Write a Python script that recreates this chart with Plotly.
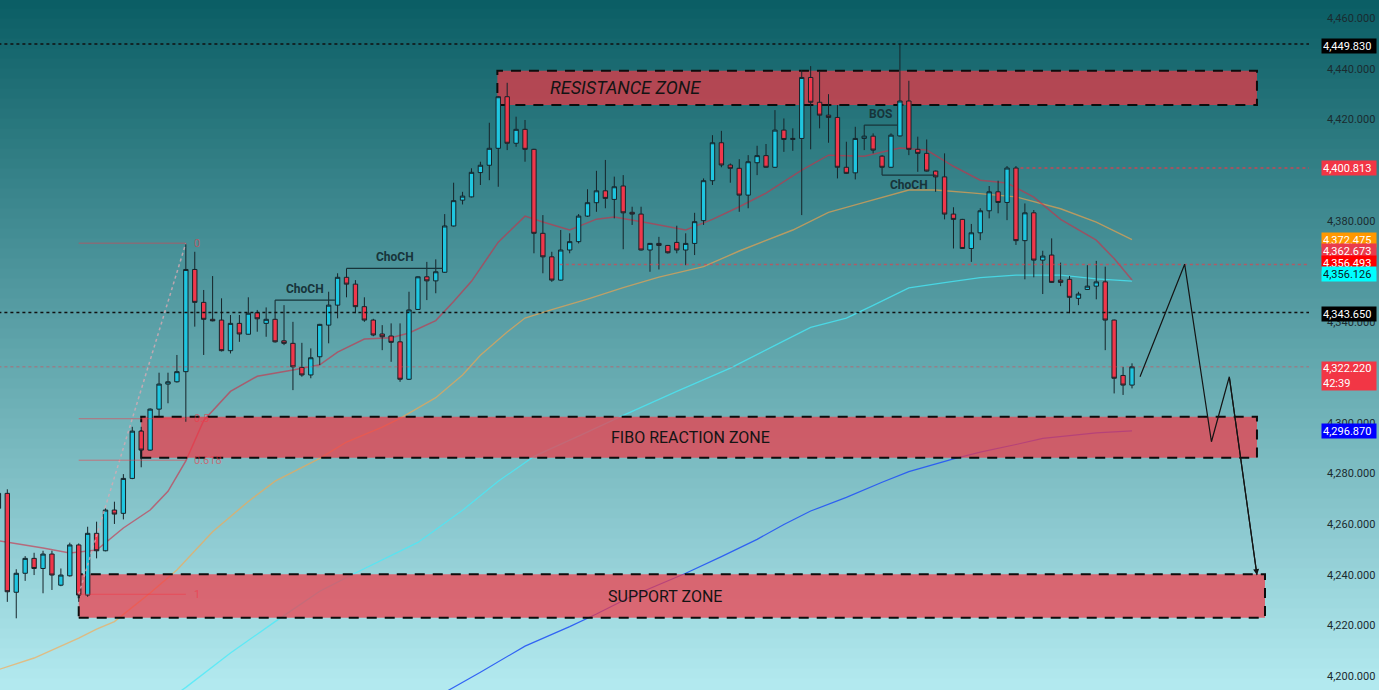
import plotly.graph_objects as go

# ---- candles (index -1 is the sliver cut off at the left edge) ----
CANDLE_IDX = list(range(-1, 127))
OPEN = [
    4266.3, 4272.2, 4233.1, 4240.6, 4246.5, 4242.5, 4248.2, 4235.9, 4239.6, 4251.8,
    4232.0, 4256.4, 4249.5, 4265.6, 4264.3, 4278.1, 4296.8, 4289.3, 4305.5, 4315.4,
    4316.3, 4320.3, 4360.7, 4347.7, 4341.0, 4340.7, 4328.6, 4339.4, 4335.1, 4343.6,
    4339.4, 4341.0, 4332.5, 4331.5, 4322.0, 4319.0, 4326.2, 4338.7, 4346.6, 4357.6,
    4354.9, 4346.0, 4340.7, 4335.2, 4334.4, 4332.1, 4317.3, 4344.9, 4357.8, 4356.2,
    4359.6, 4377.9, 4388.1, 4389.4, 4399.0, 4401.9, 4408.6, 4429.0, 4410.6, 4416.1,
    4408.2, 4375.0, 4365.7, 4356.5, 4368.4, 4371.7, 4381.8, 4387.1, 4391.8, 4388.4,
    4393.7, 4383.3, 4382.6, 4368.4, 4371.0, 4370.2, 4371.4, 4368.4, 4371.0, 4380.0,
    4395.8, 4410.8, 4402.0, 4400.7, 4390.1, 4402.9, 4405.7, 4401.1, 4415.8, 4412.1,
    4412.5, 4436.6, 4426.8, 4421.7, 4420.8, 4401.1, 4398.9, 4412.5, 4413.4, 4405.5,
    4401.1, 4413.5, 4427.3, 4408.2, 4406.6, 4399.6, 4397.3, 4382.6, 4380.5, 4369.0,
    4375.2, 4383.9, 4391.4, 4387.2, 4400.8, 4372.1, 4383.1, 4364.4, 4366.4, 4356.5,
    4356.8, 4349.3, 4352.8, 4354.1, 4355.8, 4340.7, 4318.8, 4315.0,
]
HIGH = [
    4273.0, 4273.8, 4242.2, 4247.4, 4248.7, 4249.5, 4249.5, 4242.5, 4252.7, 4252.4,
    4259.0, 4261.0, 4266.3, 4268.9, 4279.8, 4298.5, 4298.5, 4305.8, 4319.9, 4319.9,
    4326.9, 4371.1, 4367.7, 4352.6, 4358.1, 4349.3, 4342.7, 4342.7, 4349.7, 4344.7,
    4345.7, 4348.6, 4346.6, 4340.0, 4331.7, 4329.5, 4339.2, 4351.9, 4359.2, 4361.1,
    4356.5, 4349.7, 4341.2, 4338.7, 4339.4, 4339.4, 4351.9, 4358.0, 4363.7, 4364.7,
    4382.6, 4395.0, 4391.4, 4400.7, 4403.3, 4418.7, 4429.3, 4434.5, 4421.1, 4419.8,
    4408.4, 4382.2, 4367.7, 4376.3, 4375.0, 4382.6, 4392.4, 4399.7, 4404.0, 4397.4,
    4398.0, 4385.5, 4385.5, 4371.2, 4373.6, 4370.4, 4378.0, 4375.0, 4383.1, 4396.7,
    4413.8, 4415.5, 4402.6, 4404.3, 4405.9, 4409.6, 4410.3, 4423.7, 4420.4, 4416.5,
    4439.5, 4441.1, 4438.9, 4430.0, 4425.7, 4411.2, 4417.1, 4417.8, 4414.5, 4405.9,
    4414.5, 4449.83, 4435.3, 4413.2, 4412.1, 4399.8, 4406.6, 4385.3, 4380.7, 4378.7,
    4384.9, 4393.7, 4395.8, 4401.6, 4401.6, 4386.8, 4384.2, 4368.1, 4373.0, 4363.4,
    4358.1, 4351.9, 4362.4, 4364.1, 4361.8, 4340.9, 4322.2, 4323.6,
]
LOW = [
    4262.0, 4229.3, 4222.8, 4237.6, 4239.9, 4232.7, 4234.0, 4235.5, 4239.3, 4229.3,
    4231.3, 4246.5, 4249.3, 4260.1, 4261.9, 4277.8, 4282.5, 4289.0, 4302.5, 4307.8,
    4316.0, 4300.5, 4338.1, 4326.9, 4340.2, 4328.3, 4327.5, 4332.1, 4335.0, 4336.1,
    4334.1, 4331.8, 4330.8, 4313.0, 4318.3, 4317.7, 4322.9, 4331.5, 4341.4, 4349.7,
    4343.4, 4340.0, 4334.3, 4328.8, 4324.2, 4316.3, 4317.0, 4344.7, 4348.6, 4351.3,
    4359.4, 4377.7, 4386.4, 4389.2, 4394.1, 4396.0, 4393.4, 4407.9, 4409.2, 4403.3,
    4367.1, 4359.2, 4355.8, 4356.3, 4367.1, 4371.0, 4381.5, 4383.5, 4384.9, 4380.9,
    4368.7, 4378.3, 4368.2, 4359.8, 4360.7, 4367.0, 4367.1, 4362.4, 4366.4, 4378.3,
    4394.1, 4401.1, 4395.0, 4383.5, 4384.9, 4398.0, 4400.9, 4400.9, 4407.2, 4407.6,
    4382.2, 4408.2, 4416.5, 4410.8, 4396.7, 4398.5, 4396.3, 4407.9, 4406.6, 4398.0,
    4400.9, 4413.3, 4405.9, 4399.3, 4399.4, 4391.4, 4380.5, 4369.0, 4368.8, 4363.7,
    4372.3, 4380.9, 4382.9, 4380.2, 4370.4, 4356.8, 4357.6, 4351.0, 4355.4, 4354.1,
    4343.4, 4346.6, 4352.6, 4348.9, 4328.8, 4311.7, 4311.1, 4313.7,
]
CLOSE = [
    4272.2, 4233.3, 4240.6, 4246.5, 4242.5, 4248.2, 4239.9, 4239.9, 4251.8, 4232.0,
    4256.4, 4249.5, 4265.6, 4264.0, 4278.1, 4296.8, 4289.3, 4305.5, 4315.4, 4316.3,
    4320.3, 4360.7, 4347.7, 4341.0, 4340.4, 4328.6, 4339.4, 4335.2, 4343.4, 4341.2,
    4341.0, 4332.1, 4331.5, 4322.2, 4319.0, 4325.8, 4339.0, 4346.6, 4357.6, 4354.9,
    4346.0, 4340.7, 4334.8, 4334.1, 4331.9, 4317.3, 4344.7, 4357.8, 4356.2, 4359.8,
    4377.9, 4387.9, 4389.7, 4399.1, 4401.9, 4408.6, 4429.0, 4410.6, 4416.1, 4408.2,
    4375.0, 4365.7, 4356.5, 4368.4, 4371.7, 4381.8, 4387.1, 4391.8, 4388.8, 4393.4,
    4383.1, 4382.6, 4368.4, 4371.0, 4370.2, 4367.3, 4368.4, 4371.0, 4379.6, 4395.8,
    4410.8, 4402.0, 4400.7, 4390.1, 4403.3, 4405.7, 4401.1, 4415.8, 4412.1, 4412.5,
    4436.6, 4426.8, 4421.7, 4420.8, 4401.1, 4398.7, 4412.5, 4413.4, 4407.9, 4401.1,
    4413.8, 4427.3, 4408.2, 4406.6, 4399.6, 4397.3, 4382.6, 4380.5, 4369.0, 4375.2,
    4383.9, 4391.4, 4387.2, 4400.8, 4372.1, 4383.1, 4364.4, 4366.0, 4355.6, 4355.6,
    4349.7, 4351.0, 4354.1, 4355.8, 4340.7, 4317.7, 4315.0, 4322.22,
]

# ---- moving averages at candle indices ----
MA20_IDX = [-1, 4, 7, 10, 13, 16, 18, 20, 22, 25, 28, 32, 35, 37, 40, 43, 45, 48, 50, 52,
            55, 58, 60, 63, 66, 68, 72, 76, 79, 82, 85, 89, 92, 96, 100, 103, 106, 109,
            112, 115, 118, 122, 124, 126]
MA20 = [4253.5, 4250.6, 4248.6, 4249.8, 4258.5, 4265.6, 4273.0, 4285.0, 4301.0, 4312.5,
        4318.5, 4321.0, 4323.0, 4328.0, 4333.2, 4333.7, 4335.6, 4340.5, 4348.0, 4356.0,
        4371.5, 4381.8, 4379.5, 4376.3, 4380.6, 4381.4, 4379.0, 4376.3, 4380.5, 4385.5,
        4390.9, 4400.0, 4405.9, 4405.5, 4408.7, 4407.9, 4401.5, 4396.0, 4394.9, 4389.3,
        4380.5, 4372.3, 4365.0, 4356.5]

MA50_IDX = [-1, 3, 8, 10, 12, 16, 19, 23, 27, 30, 35, 38, 42, 44, 48, 51, 53, 56, 58, 61,
            65, 69, 73, 78, 82, 88, 92, 96, 101, 104, 108, 113, 118, 122, 126]
MA50 = [4202.5, 4207.1, 4215.0, 4218.5, 4221.5, 4232.8, 4241.9, 4257.0, 4269.0, 4277.0,
        4286.0, 4292.5, 4298.4, 4301.8, 4310.0, 4319.0, 4326.8, 4336.0, 4341.5, 4344.8,
        4349.0, 4353.5, 4357.7, 4361.8, 4368.0, 4376.3, 4383.3, 4387.2, 4392.1, 4392.1,
        4391.0, 4389.4, 4384.7, 4379.4, 4372.5]

MA100_IDX = [18, 20, 25, 30, 35, 39, 46, 51, 55, 59, 64, 69, 75, 81, 87, 90, 94, 97, 101,
             105, 109, 113, 118, 122, 126]
MA100 = [4190.5, 4195.5, 4209.1, 4221.5, 4233.5, 4240.7, 4252.8, 4265.5, 4277.0, 4286.8,
         4294.8, 4303.0, 4312.5, 4321.7, 4332.5, 4337.8, 4341.5, 4346.5, 4353.4, 4355.5,
         4357.5, 4358.5, 4358.5, 4357.0, 4356.1]

MA200_IDX = [48, 53, 58, 63, 66, 70, 76, 80, 84, 87, 90, 94, 98, 101, 106, 109, 113, 116,
             122, 126]
MA200 = [4191.5, 4201.5, 4211.8, 4219.5, 4224.5, 4231.6, 4240.6, 4247.2, 4254.0, 4259.9,
         4265.2, 4270.6, 4276.6, 4280.8, 4285.8, 4288.5, 4291.5, 4293.9, 4296.1, 4296.9]

# ---- zones: (start idx, end idx, low price, high price) ----
ZONE_NAMES = ["<i>RESISTANCE ZONE</i>", "FIBO REACTION ZONE", "SUPPORT ZONE"]
ZONE_X0 = [54.9, 15.0, 8.0]
ZONE_X1 = [140.0, 140.0, 140.9]
ZONE_LOW = [4425.7, 4286.3, 4223.0]
ZONE_HIGH = [4439.3, 4302.5, 4240.2]
ZONE_TEXT_X = [69.3, 76.5, 73.7]

# ---- fibonacci ----
FIB_LABELS = ["0", "0.5", "0.618", "1"]
FIB_PRICES = [4371.1, 4301.7, 4285.3, 4232.3]
FIB_X0, FIB_X1 = 8, 20

# ---- structure breaks ----
BREAK_TEXT = ["ChoCH", "ChoCH", "BOS", "ChoCH"]
BREAK_START = [30, 38, 96, 98]
BREAK_END = [36.7, 48.8, 99.7, 104.0]
BREAK_LEVEL = [4348.6, 4361.1, 4417.8, 4398.0]
BREAK_ABOVE = [True, True, True, False]

# ---- horizontal levels ----
LEVEL_PRICES = [4449.83, 4343.65, 4400.813, 4362.673, 4322.22]
LEVEL_START = [-1, -1, 113.5, 61.9, -1]
LEVEL_COLORS = ["#111111", "#111111", "rgba(242,54,69,0.75)", "rgba(242,54,69,0.6)",
                "rgba(242,54,69,0.35)"]

# ---- projected path ----
PROJ_IDX = [126.9, 131.9, 134.9, 136.9, 140.0]
PROJ_PRICE = [4318.3, 4362.8, 4292.6, 4318.3, 4239.9]

# ---- right axis tags ----
TAG_PRICES = [4449.83, 4400.813, 4372.475, 4362.673, 4356.493, 4356.126, 4343.65, 4322.22, 4296.87]
TAG_TEXT = ["4,449.830", "4,400.813", "4,372.475", "4,362.673", "4,356.493", "4,356.126",
            "4,343.650", "4,322.220<br>42:39", "4,296.870"]
TAG_BG = ["#000000", "#f23645", "#ff9800", "#ea3b4c", "#ff0000", "#00ffff",
          "#000000", "#f23645", "#0000ff"]
TAG_FG = ["#ffffff"] * 5 + ["#0b1a1f"] + ["#ffffff"] * 3
TAG_SHIFT = [-2, 0, 0, 13, 17, 7, -1, -9, 0]

# 4,400 / 4,360 / 4,320 sit fully behind the tags in the reference, so they are left out
TICK_VALUES = [4200, 4220, 4240, 4260, 4280, 4300, 4340, 4380, 4420, 4440, 4460]

Y_RANGE = [4194.46, 4467.23]
X_RANGE = [-0.82, 145.83]

TOP_RGB = (11, 94, 101)
BOTTOM_RGB = (178, 233, 239)


def ma_path(idx, vals):
    return "M " + " L ".join(f"{x},{y}" for x, y in zip(idx, vals))


fig = go.Figure()

# background gradient bands (paper coords, under everything)
shapes = []
n_bands = 69
for k in range(n_bands):
    t = k / (n_bands - 1)
    r = round(TOP_RGB[0] + (BOTTOM_RGB[0] - TOP_RGB[0]) * t)
    g = round(TOP_RGB[1] + (BOTTOM_RGB[1] - TOP_RGB[1]) * t)
    b = round(TOP_RGB[2] + (BOTTOM_RGB[2] - TOP_RGB[2]) * t)
    shapes.append(dict(
        type="rect", xref="paper", yref="paper", x0=-0.01, x1=1.07,
        y0=1 - (k + 1) / n_bands, y1=1 - k / n_bands + 0.002,
        fillcolor=f"rgb({r},{g},{b})", line=dict(width=0), layer="below",
    ))

# moving averages as path shapes so that the zones can sit over them
for idx, vals, color, width in [
    (MA200_IDX, MA200, "rgba(35,85,245,0.9)", 1.2),
    (MA100_IDX, MA100, "rgba(70,235,250,0.75)", 1.3),
    (MA50_IDX, MA50, "rgba(255,165,70,0.62)", 1.4),
    (MA20_IDX, MA20, "rgba(205,45,70,0.62)", 1.5),
]:
    shapes.append(dict(type="path", xref="x", yref="y", path=ma_path(idx, vals),
                       line=dict(color=color, width=width), layer="below"))

# zones
for x0, x1, lo, hi in zip(ZONE_X0, ZONE_X1, ZONE_LOW, ZONE_HIGH):
    shapes.append(dict(type="rect", xref="x", yref="y", x0=x0, x1=x1, y0=lo, y1=hi,
                       fillcolor="rgba(242,54,69,0.7)",
                       line=dict(color="#0d0d0d", width=2, dash="10px,8px"), layer="below"))

fig.update_layout(shapes=shapes)

# fibonacci trend + levels
fig.add_trace(go.Scatter(
    x=[FIB_X0, FIB_X1], y=[FIB_PRICES[-1], FIB_PRICES[0]], mode="lines",
    line=dict(color="rgba(215,170,180,0.8)", width=1.5, dash="dot"), hoverinfo="skip",
))
for price in FIB_PRICES:
    fig.add_trace(go.Scatter(
        x=[FIB_X0, FIB_X1], y=[price, price], mode="lines",
        line=dict(color="rgba(242,54,69,0.55)", width=1), hoverinfo="skip",
    ))

# horizontal levels
for price, start, color in zip(LEVEL_PRICES, LEVEL_START, LEVEL_COLORS):
    fig.add_trace(go.Scatter(
        x=[start, X_RANGE[1]], y=[price, price], mode="lines",
        line=dict(color=color, width=1.5, dash="dot"), hoverinfo="skip",
    ))

fig.add_trace(go.Candlestick(
    x=CANDLE_IDX, open=OPEN, high=HIGH, low=LOW, close=CLOSE,
    increasing=dict(line=dict(color="#16242a", width=1), fillcolor="#1fc6e0"),
    decreasing=dict(line=dict(color="#16242a", width=1), fillcolor="#f0374b"),
    whiskerwidth=0, hoverinfo="skip",
))

# structure break lines
for s, e, lvl in zip(BREAK_START, BREAK_END, BREAK_LEVEL):
    fig.add_trace(go.Scatter(
        x=[s, e], y=[lvl, lvl], mode="lines",
        line=dict(color="#17343a", width=1.3), hoverinfo="skip",
    ))

# projected path
fig.add_trace(go.Scatter(
    x=PROJ_IDX, y=PROJ_PRICE, mode="lines",
    line=dict(color="#141414", width=1.2), hoverinfo="skip",
))

annotations = []
for name, tx, lo, hi in zip(ZONE_NAMES, ZONE_TEXT_X, ZONE_LOW, ZONE_HIGH):
    big = name.startswith("<i>")
    annotations.append(dict(
        x=tx, y=(lo + hi) / 2, xref="x", yref="y", text=name, showarrow=False,
        font=dict(family="Roboto", size=18 if big else 16, color="#141414"),
    ))

for lbl, price in zip(FIB_LABELS, FIB_PRICES):
    annotations.append(dict(
        x=FIB_X1 + 0.7, y=price, xref="x", yref="y", text=lbl, showarrow=False,
        xanchor="left", font=dict(family="Roboto", size=11, color="rgba(242,54,69,0.6)"),
    ))

for txt, s, e, lvl, above in zip(BREAK_TEXT, BREAK_START, BREAK_END, BREAK_LEVEL, BREAK_ABOVE):
    annotations.append(dict(
        x=(s + e) / 2, y=lvl, xref="x", yref="y", text=f"<b>{txt}</b>", showarrow=False,
        yshift=11 if above else -10,
        font=dict(family="Roboto", size=12, color="#17343a"),
    ))

annotations.append(dict(
    x=PROJ_IDX[-1], y=PROJ_PRICE[-1], ax=PROJ_IDX[-2], ay=PROJ_PRICE[-2],
    xref="x", yref="y", axref="x", ayref="y", text="", showarrow=True,
    arrowhead=2, arrowsize=1, arrowwidth=1.2, arrowcolor="#141414", standoff=0,
))

for price, txt, bg, fg, shift in zip(TAG_PRICES, TAG_TEXT, TAG_BG, TAG_FG, TAG_SHIFT):
    two = "<br>" in txt
    annotations.append(dict(
        x=1, y=price, xref="paper", yref="y", text=txt, showarrow=False,
        xanchor="left", xshift=12, yshift=shift, align="left",
        width=52, height=26 if two else 12, bgcolor=bg, borderpad=1,
        font=dict(family="Roboto", size=11, color=fg),
    ))

fig.update_layout(
    annotations=annotations,
    width=1379,
    height=690,
    margin=dict(l=0, r=70, t=0, b=0),
    paper_bgcolor="rgb(11,94,101)",
    plot_bgcolor="rgba(0,0,0,0)",
    showlegend=False,
    hovermode=False,
    xaxis=dict(range=X_RANGE, visible=False, rangeslider=dict(visible=False),
               showgrid=False, zeroline=False),
    yaxis=dict(
        range=Y_RANGE, side="right", tickvals=TICK_VALUES, tickformat=",.3f",
        showgrid=False, zeroline=False, showline=False, ticks="",
        ticklabelstandoff=17,
        tickfont=dict(family="Roboto", size=11, color="#1a2b30"),
    ),
)

# drop the browser's default page margin so the chart fills the window exactly
fig.write_html(
    "out.html",
    config={"displayModeBar": False},
    post_script="document.body.style.margin='0';document.body.style.overflow='hidden';",
)
